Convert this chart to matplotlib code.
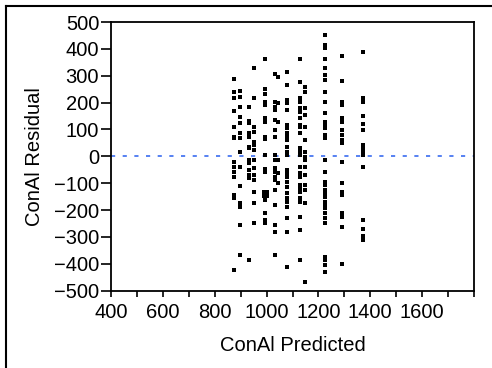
import numpy as np
import matplotlib.pyplot as plt
from matplotlib.lines import Line2D

plt.rcParams['font.family'] = ['Liberation Sans', 'DejaVu Sans']

# residuals, one list per predicted-value column
pred_cols = [875, 897, 932, 953, 995, 1032, 1045, 1079, 1129, 1148, 1225, 1290, 1373]
resid_cols = [
    [288, 241, 218, 169, 110, 73, 67, -20, -38, -57, -76, -144, -156, -423],
    [244, 220, 185, 148, 125, 86, 67, 17, -38, -109, -175, -187, -255, -367],
    [183, 133, 123, 86, 73, 36, 30, -14, -26, -51, -69, -82, -386],
    [328, 216, 110, 92, 55, 42, 24, -14, -45, -69, -88, -131, -175, -247],
    [361, 250, 232, 203, 191, 144, 129, 73, 65, 5, -47, -57, -131, -144,
     -162, -212, -237, -249],
    [305, 203, 183, 173, 135, 98, 73, 5, -14, -45, -57, -76, -88, -125,
     -181, -255, -280, -367],
    [297, 197, 129, -14, -63, -100],
    [315, 266, 210, 197, 173, 117, 104, 86, 73, 61, 36, 17, 5, -51, -63,
     -76, -94, -113, -138, -156, -169, -187, -231, -280, -413],
    [361, 278, 216, 203, 179, 166, 142, 117, 110, 86, 30, 17, 5, -38, -63,
     -76, -107, -119, -131, -156, -169, -225, -274, -386],
    [259, 241, 179, 154, 110, 61, 17, -1, -14, -38, -69, -107, -125, -175,
     -466],
    [452, 414, 402, 361, 328, 303, 284, 241, 203, 160, 129, 117, 104, 80, 67,
     -14, -57, -94, -107, -125, -138, -150, -169, -181, -194, -212, -231,
     -249, -373, -386, -404, -429],
    [375, 282, 203, 191, 142, 129, 98, 80, 61, 51, -20, -98, -131, -144,
     -212, -225, -262, -401],
    [387, 216, 203, 150, 119, 98, 42, 30, 20, 11, 5, -38, -237, -270, -296,
     -311],
]
# a few points sitting almost on top of each other (the fat square near 1000)
extra_x = [990, 1000, 990, 1000]
extra_y = [-132, -132, -146, -146]

x = np.concatenate([[p] * len(r) for p, r in zip(pred_cols, resid_cols)] + [extra_x])
y = np.concatenate([np.array(r, dtype=float) for r in resid_cols] + [extra_y])

fig = plt.figure(figsize=(4.92, 3.68), dpi=100)
ax = fig.add_axes([111 / 492, 1 - 290.7 / 368, 363 / 492, 268.7 / 368])

ax.scatter(x, y, marker='s', s=6.5, c='black', linewidths=0, zorder=3)
ax.axhline(0, color='#3a6cf0', linestyle=(0, (2.5, 4.5)), linewidth=1.2, zorder=2)

ax.set_xlim(400, 1800)
ax.set_ylim(-500, 500)
ax.set_xticks(np.arange(400, 1801, 100))
ax.set_xticklabels([str(v) if v % 200 == 0 and v < 1800 else '' for v in range(400, 1801, 100)])
ax.set_yticks(np.arange(-500, 501, 100))
ax.tick_params(axis='x', length=4.5, width=1.2, labelsize=14.5, pad=4.5)
ax.tick_params(axis='y', length=7, width=1.2, labelsize=14.5, pad=1.5)
for s in ax.spines.values():
    s.set_linewidth(1.3)

ax.set_xlabel('ConAl Predicted', fontsize=14.5, labelpad=10)
ax.set_ylabel('ConAl Residual', fontsize=14.5, labelpad=7)

# outer frame, cut off at the right and bottom of the image
fig.add_artist(Line2D([6 / 492, 6 / 492], [0, 1 - 6 / 368], color='black', lw=1.5,
                      transform=fig.transFigure))
fig.add_artist(Line2D([6 / 492, 1], [1 - 6 / 368, 1 - 6 / 368], color='black', lw=1.5,
                      transform=fig.transFigure))

fig.savefig('out.png', dpi=100)
